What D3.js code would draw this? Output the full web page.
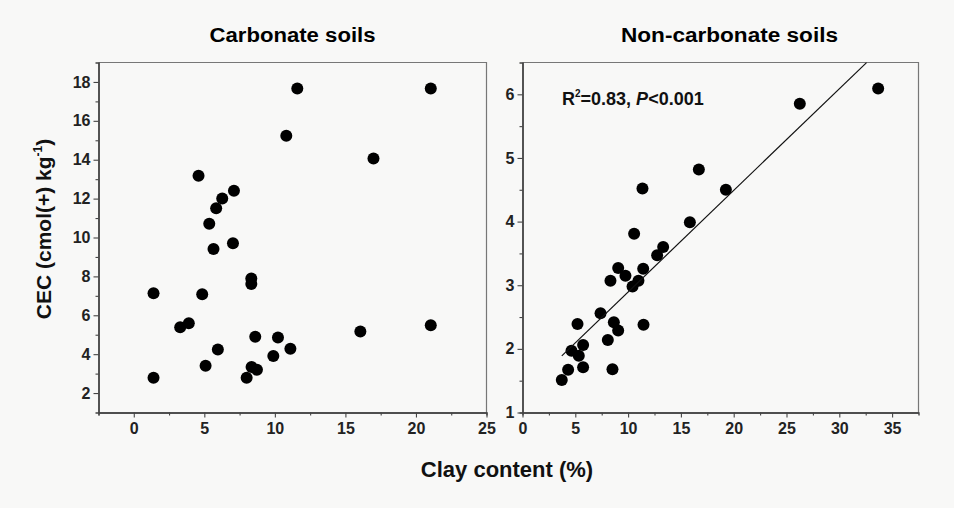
<!DOCTYPE html>
<html>
<head>
<meta charset="utf-8">
<script src="https://cdn.jsdelivr.net/npm/d3@7"></script>
<style>
  html, body { margin: 0; padding: 0; background: #f8f8f7; }
  svg { display: block; font-family: "Liberation Sans", Arial, sans-serif; }
</style>
</head>
<body>
<div id="chart"></div>
<script>
// Carbonate soils: clay content (%) and CEC
const carbClay = [11.59, 21.05, 10.81, 16.99, 4.59, 7.10, 6.27, 5.84, 5.35, 7.03,
  5.65, 8.33, 8.33, 1.40, 4.85, 3.29, 3.90, 21.05, 16.06, 8.61,
  10.22, 11.10, 5.96, 9.89, 5.09, 8.35, 8.73, 8.00, 1.40];
const carbCec = [17.66, 17.66, 15.23, 14.06, 13.17, 12.40, 12.01, 11.51, 10.71, 9.70,
  9.41, 7.89, 7.61, 7.13, 7.08, 5.39, 5.59, 5.49, 5.17, 4.89,
  4.86, 4.28, 4.24, 3.90, 3.40, 3.34, 3.20, 2.79, 2.79];

// Non-carbonate soils
const nonClay = [33.68, 26.26, 16.70, 11.36, 19.26, 15.85, 10.57, 13.32, 12.75, 9.06,
  11.43, 9.75, 8.33, 10.98, 10.42, 7.39, 5.21, 8.65, 11.46, 9.06,
  8.08, 5.74, 4.64, 5.33, 5.74, 8.52, 4.32, 3.72];
const nonCec = [6.09, 5.85, 4.82, 4.52, 4.50, 3.99, 3.81, 3.60, 3.47, 3.27,
  3.26, 3.15, 3.07, 3.07, 2.98, 2.56, 2.39, 2.42, 2.38, 2.29,
  2.14, 2.06, 1.97, 1.89, 1.71, 1.68, 1.67, 1.51];

// fitted line
const fitSlope = 0.1597;
const fitIntercept = 1.296;
const fitRange = [3.72, 32.58];

const carbXTicks = [0, 5, 10, 15, 20, 25];
const carbYTicks = [2, 4, 6, 8, 10, 12, 14, 16, 18];
const nonXTicks = [0, 5, 10, 15, 20, 25, 30, 35];
const nonYTicks = [1, 2, 3, 4, 5, 6];

const W = 954, H = 508;
const svg = d3.select("#chart").append("svg")
  .attr("width", W).attr("height", H);

svg.append("rect").attr("width", W).attr("height", H).attr("fill", "#f8f8f7");

function panel(opts) {
  const x = d3.scaleLinear().domain(opts.xDomain).range([opts.left, opts.right]);
  const y = d3.scaleLinear().domain(opts.yDomain).range([opts.bottom, opts.top]);
  const g = svg.append("g");

  // frame (top and right)
  g.append("path")
    .attr("d", `M${opts.left},${opts.top}H${opts.right}V${opts.bottom}`)
    .attr("fill", "none").attr("stroke", "#777").attr("stroke-width", 1.2);

  // minor ticks
  const minorX = d3.axisBottom(x).tickValues(opts.xMinor).tickSize(3).tickFormat("");
  const minorY = d3.axisLeft(y).tickValues(opts.yMinor).tickSize(3).tickFormat("");
  g.append("g").attr("transform", `translate(0,${opts.bottom})`).call(minorX);
  g.append("g").attr("transform", `translate(${opts.left},0)`).call(minorY);

  // major ticks + labels
  const xAxis = d3.axisBottom(x).tickValues(opts.xTicks).tickSize(5).tickPadding(5)
    .tickSizeOuter(0).tickFormat(d3.format("d"));
  const yAxis = d3.axisLeft(y).tickValues(opts.yTicks).tickSize(5).tickPadding(3)
    .tickSizeOuter(0).tickFormat(d3.format("d"));
  g.append("g").attr("class", "xa").attr("transform", `translate(0,${opts.bottom})`).call(xAxis);
  g.append("g").attr("class", "ya").attr("transform", `translate(${opts.left},0)`).call(yAxis);

  g.selectAll(".domain").attr("stroke", "#444").attr("stroke-width", 1.4);
  g.selectAll(".tick line").attr("stroke", "#444").attr("stroke-width", 1.1);
  g.selectAll(".tick text")
    .attr("font-family", "Liberation Sans, Arial, sans-serif")
    .attr("font-size", 16).attr("font-weight", "bold").attr("fill", "#222");

  // points
  g.append("g").selectAll("circle")
    .data(d3.zip(opts.xs, opts.ys))
    .join("circle")
    .attr("cx", d => x(d[0]))
    .attr("cy", d => y(d[1]))
    .attr("r", 6)
    .attr("fill", "#000");

  // title
  svg.append("text")
    .attr("x", (opts.left + opts.right) / 2 + opts.titleShift)
    .attr("y", 42)
    .attr("text-anchor", "middle")
    .attr("font-size", 20).attr("font-weight", "bold")
    .attr("textLength", opts.titleWidth).attr("lengthAdjust", "spacingAndGlyphs")
    .text(opts.title);

  return { x, y, g };
}

const left = panel({
  xDomain: [-2.5, 25], yDomain: [1, 19],
  left: 98.5, right: 486.5, top: 62.5, bottom: 412.5,
  xTicks: carbXTicks, yTicks: carbYTicks,
  xMinor: [-2.5, 2.5, 7.5, 12.5, 17.5, 22.5],
  yMinor: [3, 5, 7, 9, 11, 13, 15, 17],
  xs: carbClay, ys: carbCec,
  title: "Carbonate soils", titleShift: 0, titleWidth: 166
});

const right = panel({
  xDomain: [0, 37.5], yDomain: [1, 6.5],
  left: 522.5, right: 918.5, top: 62.5, bottom: 412.5,
  xTicks: nonXTicks, yTicks: nonYTicks,
  xMinor: [2.5, 7.5, 12.5, 17.5, 22.5, 27.5, 32.5],
  yMinor: [1.5, 2.5, 3.5, 4.5, 5.5],
  xs: nonClay, ys: nonCec,
  title: "Non-carbonate soils", titleShift: 9, titleWidth: 217
});

// regression line
right.g.append("line")
  .attr("x1", right.x(fitRange[0]))
  .attr("y1", right.y(fitIntercept + fitSlope * fitRange[0]))
  .attr("x2", right.x(fitRange[1]))
  .attr("y2", right.y(fitIntercept + fitSlope * fitRange[1]))
  .attr("stroke", "#111").attr("stroke-width", 1.2);

// annotation
const ann = svg.append("text")
  .attr("x", 562).attr("y", 105)
  .attr("font-size", 18).attr("font-weight", "bold").attr("fill", "#111");
ann.append("tspan").text("R");
ann.append("tspan").attr("font-size", 10).attr("dy", -8).text("2");
ann.append("tspan").attr("dy", 8).text("=0.83, ");
ann.append("tspan").attr("font-style", "italic").text("P");
ann.append("tspan").text("<0.001");

// axis titles
svg.append("text")
  .attr("x", 507).attr("y", 477)
  .attr("text-anchor", "middle")
  .attr("font-size", 22).attr("font-weight", "bold").attr("fill", "#111")
  .text("Clay content (%)");

const yl = svg.append("text")
  .attr("transform", "translate(51,229) rotate(-90)")
  .attr("text-anchor", "middle")
  .attr("font-size", 21).attr("font-weight", "bold").attr("fill", "#111");
yl.append("tspan").text("CEC (cmol(+) kg");
yl.append("tspan").attr("font-size", 12).attr("dy", -9).text("-1");
yl.append("tspan").attr("dy", 9).text(")");
</script>
</body>
</html>
